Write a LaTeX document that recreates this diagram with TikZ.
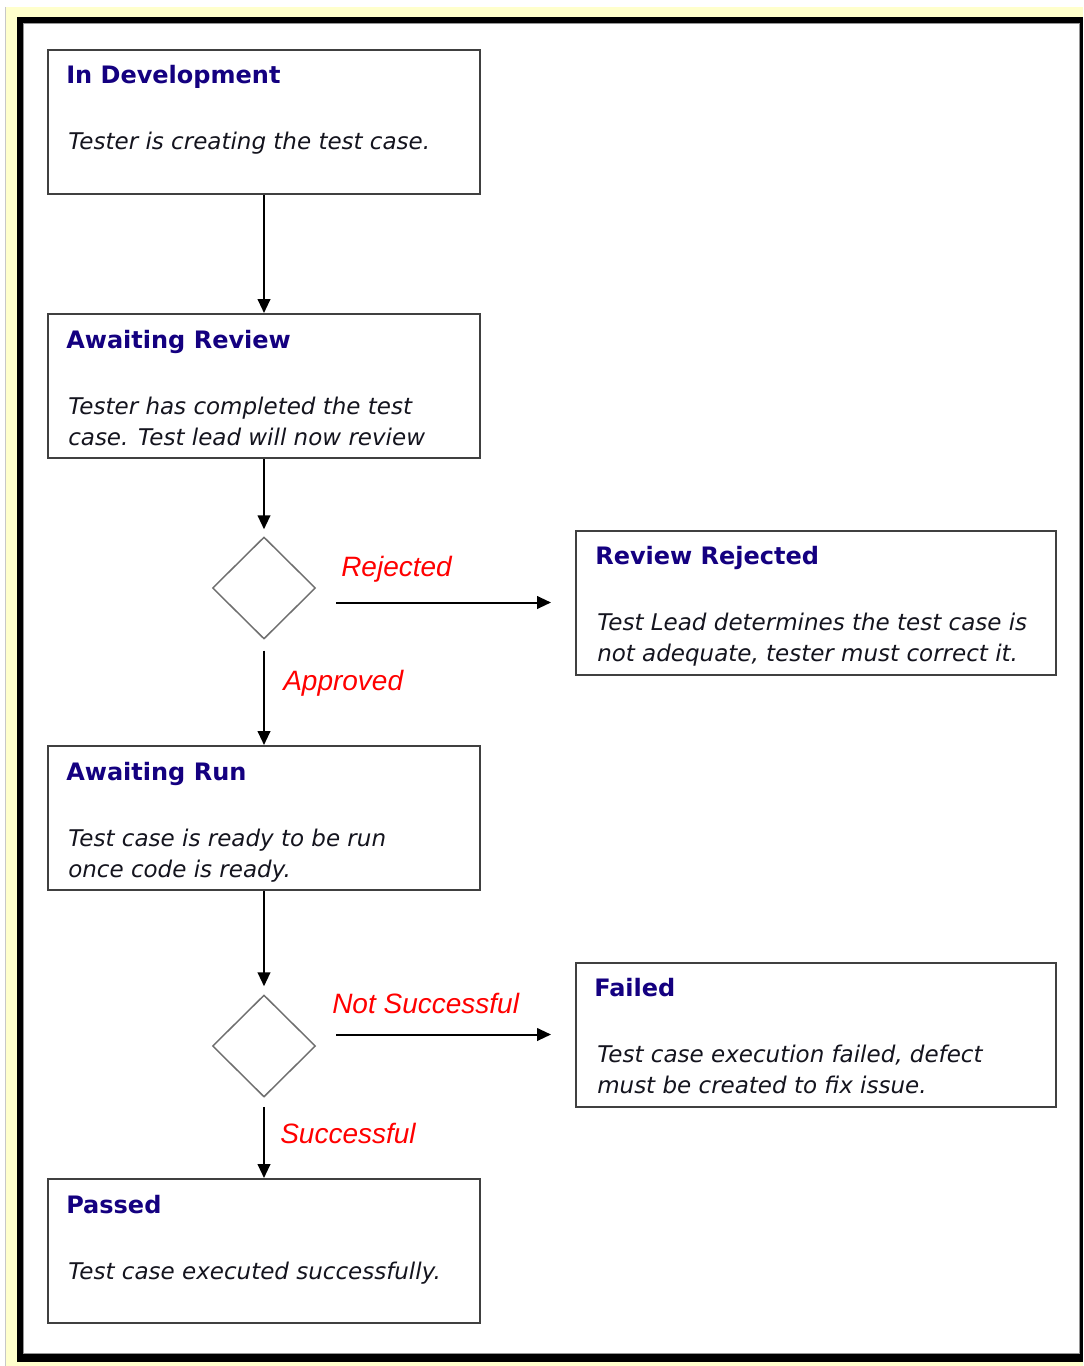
\documentclass[tikz,border=0pt]{standalone}
\usepackage{fontspec}
\setmainfont{DejaVu Sans}
\newfontfamily\lblfont{Liberation Sans}
\usetikzlibrary{shapes.geometric,arrows.meta,calc}
\newcommand{\twoline}[2]{\vtop{\hbox{#1}\hbox{#2}}}

\begin{document}
\begin{tikzpicture}[x=0.75pt,y=0.75pt,yscale=-1,xscale=1,
  box/.style={draw={rgb, 255:red, 64; green, 64; blue, 64 }, line width=1.5pt, fill=white, minimum width=324pt, minimum height=108pt, inner sep=0pt},
  widebox/.style={box, minimum width=360pt},
  decision/.style={diamond, draw={rgb, 255:red, 110; green, 110; blue, 110 }, line width=1.1pt, minimum width=77.25pt, minimum height=76.5pt, inner sep=0pt},
  ttl/.style={anchor=base west, inner sep=0pt, color={rgb, 255:red, 20; green, 0; blue, 128 }, font=\bfseries\fontsize{18}{22}\selectfont},
  txt/.style={anchor=base west, inner sep=0pt, color={rgb, 255:red, 20; green, 20; blue, 30 }, font=\itshape\fontsize{17.25}{23.25}\selectfont},
  lbl/.style={anchor=base west, inner sep=0pt, color={rgb, 255:red, 255; green, 0; blue, 0 }, font=\lblfont\itshape\fontsize{21}{25}\selectfont},
  arr/.style={line width=1.5pt, -{Triangle[length=10.5pt,width=9.5pt]}}]
\useasboundingbox (0,0) rectangle (1083,1366);

%Background and frame
\fill [color={rgb, 255:red, 255; green, 255; blue, 204 }] (6,7) rectangle (1083,1366);
\draw [color={rgb, 255:red, 200; green, 200; blue, 200 }] (5.5,7) -- (5.5,1366);
\fill [black] (17,17) rectangle (1083,1362);
\fill [white] (23,23) rectangle (1080,1354);
\draw [color={rgb, 255:red, 150; green, 150; blue, 150 }, line width=0.75pt] (23.5,23.5) rectangle (1079.5,1353.5);

%States
\node [box] (dev) at (264,122) {};
\node [box] (rev) at (264,386) {};
\node [decision] (dec1) at (264,588) {};
\node [widebox] (rej) at (816,602.5) {};
\node [box] (run) at (264,818) {};
\node [decision] (dec2) at (264,1046) {};
\node [widebox] (fail) at (816,1034.5) {};
\node [box] (pass) at (264,1251) {};

% Text Nodes
\node [ttl] (devT) at ($(dev.north west)+(19,35)$) {In Development};
\node [txt] (devB) at ($(dev.north west)+(21,101)$) {Tester is creating the test case.};
\node [ttl] (revT) at ($(rev.north west)+(19,35)$) {Awaiting Review};
\node [txt] (revB) at ($(rev.north west)+(21,101)$) {\twoline{Tester has completed the test}{case. Test lead will now review}};
\node [ttl] (rejT) at ($(rej.north west)+(20,35)$) {Review Rejected};
\node [txt] (rejB) at ($(rej.north west)+(22,101)$) {\twoline{Test Lead determines the test case is}{not adequate, tester must correct it.}};
\node [ttl] (runT) at ($(run.north west)+(19,35)$) {Awaiting Run};
\node [txt] (runB) at ($(run.north west)+(21,101)$) {\twoline{Test case is ready to be run}{once code is ready.}};
\node [ttl] (failT) at ($(fail.north west)+(19,35)$) {Failed};
\node [txt] (failB) at ($(fail.north west)+(22,101)$) {\twoline{Test case execution failed, defect}{must be created to fix issue.}};
\node [ttl] (passT) at ($(pass.north west)+(19,35)$) {Passed};
\node [txt] (passB) at ($(pass.north west)+(21,101)$) {Test case executed successfully.};

%Connectors
\draw [arr] (dev) -- (rev);
\draw [arr, shorten >=5.25pt] (rev) -- (dec1);
\draw [arr, shorten <=15pt, shorten >=18pt] (dec1.east |- rej.west) -- (rej.west);
\draw [arr, shorten <=8.25pt] (dec1) -- (run);
\draw [arr, shorten >=6pt] (run) -- (dec2);
\draw [arr, shorten <=15pt, shorten >=18pt] (dec2.east |- fail.west) -- (fail.west);
\draw [arr, shorten <=6.75pt] (dec2) -- (pass);

% Labels
\node [lbl] (rejL) at (341,576) {Rejected};
\node [lbl] (appL) at (283,690) {Approved};
\node [lbl] (notL) at (332,1013) {Not Successful};
\node [lbl] (sucL) at (280,1143) {Successful};

\end{tikzpicture}
\end{document}
